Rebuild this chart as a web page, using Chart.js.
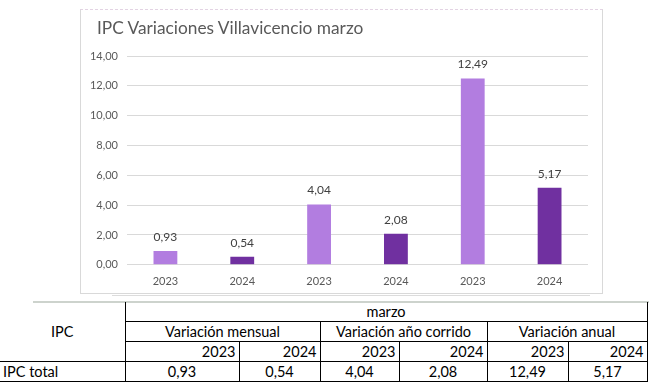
<!DOCTYPE html>
<html>
<head>
<meta charset="utf-8">
<script src="https://cdn.jsdelivr.net/npm/chart.js@4"></script>
<style>
    body { margin: 0; background: #fff; width: 649px; height: 390px; position: relative; overflow: hidden; font-family: Lato, sans-serif; }
    #frame { position: absolute; left: 80px; top: 9px; width: 521px; height: 283px; border: 1px solid #d9d9d9; border-top: 1px dashed #e3d3e3; }
    #title { position: absolute; left: 16px; top: 7px; font-size: 17.3px; color: #595959; white-space: nowrap; }
    #shadow { position: absolute; left: 112px; top: 295px; width: 478px; height: 0; border-top: 1px solid #dcdcdc; }
    #tline { position: absolute; left: 33px; top: 301px; width: 616px; height: 0; border-top: 2px solid #cdd3cd; }
    #myChart { position: absolute; left: 0; top: 0; }
    table { position: absolute; left: 0; top: 302px; border-collapse: collapse; font-size: 14.5px; color: #000; table-layout: fixed; }
    td { padding: 0 3px; height: 19px; line-height: 19px; border-right: 1px solid #000; border-bottom: 1px solid #000; white-space: nowrap; }
    .c { text-align: center; }
    .r { text-align: right; }
</style>
</head>
<body>
<div id="frame"><canvas id="myChart" width="521" height="283"></canvas><div id="title"></div></div>
<div id="shadow"></div>
<div id="tline"></div>
<table id="tbl"></table>
<script>
const categories = ['2023', '2024', '2023', '2024', '2023', '2024'];
const values = [0.93, 0.54, 4.04, 2.08, 12.49, 5.17];
const groups = ['Variación mensual', 'Variación año corrido', 'Variación anual'];
const month = 'marzo';
const rowLabel = 'IPC total';
const chartTitle = 'IPC Variaciones Villavicencio marzo';
const yMax = 14;
const yStep = 2;

const fmt = v => v.toFixed(2).replace('.', ',');

document.getElementById('title').textContent = chartTitle;

// table under the chart
const colWidths = [125, 114, 81, 79, 88, 81, 79];
let html = '<colgroup>' + colWidths.map(w => '<col style="width:' + w + 'px">').join('') + '</colgroup>';
html += '<tr><td rowspan="3" class="c">IPC</td><td colspan="6" class="c">' + month + '</td></tr>';
html += '<tr>' + groups.map(g => '<td colspan="2" class="c">' + g + '</td>').join('') + '</tr>';
html += '<tr>' + categories.map(c => '<td class="r">' + c + '</td>').join('') + '</tr>';
html += '<tr><td>' + rowLabel + '</td>' + values.map(v => '<td class="c">' + fmt(v) + '</td>').join('') + '</tr>';
document.getElementById('tbl').innerHTML = html;

const barLabels = {
    id: 'barLabels',
    afterDatasetsDraw(chart) {
        const c = chart.ctx;
        c.save();
        c.font = '12px Lato';
        c.fillStyle = '#404040';
        c.textAlign = 'center';
        c.textBaseline = 'middle';
        chart.getDatasetMeta(0).data.forEach((bar, i) => {
            c.fillText(fmt(values[i]), bar.x, bar.y - 14);
        });
        c.restore();
    }
};

const ctx = document.getElementById('myChart');

new Chart(ctx, {
    type: 'bar',
    data: {
        labels: categories,
        datasets: [{
            data: values,
            backgroundColor: c => c.dataIndex % 2 ? '#7030a0' : '#b27de0',
            barPercentage: 0.31,
            categoryPercentage: 1
        }]
    },
    plugins: [barLabels],
    options: {
        responsive: false,
        animation: false,
        layout: { padding: { left: 0, right: 14, top: 46, bottom: 3 } },
        plugins: {
            legend: { display: false },
            tooltip: { enabled: false },
            title: { display: false }
        },
        scales: {
            x: {
                grid: { display: false },
                border: { display: false },
                ticks: { color: '#595959', font: { family: 'Lato', size: 11 }, padding: 2 }
            },
            y: {
                min: 0,
                max: yMax,
                afterFit: s => { s.width = 46; },
                grid: { color: '#d9d9d9', drawTicks: false },
                border: { display: false },
                ticks: {
                    stepSize: yStep,
                    color: '#595959',
                    font: { family: 'Lato', size: 11 },
                    padding: 9,
                    callback: v => fmt(v)
                }
            }
        }
    }
});
</script>
</body>
</html>
